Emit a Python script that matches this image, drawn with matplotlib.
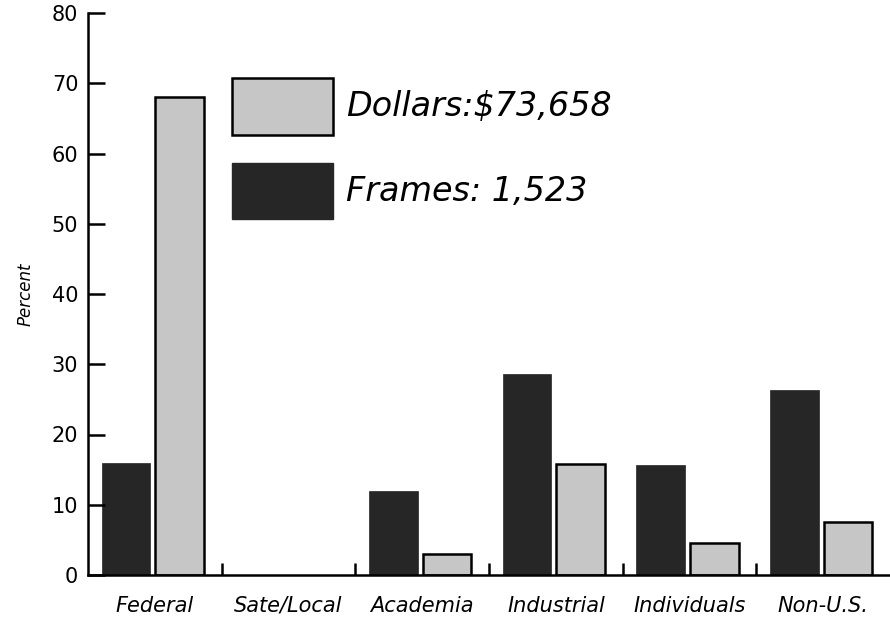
import numpy as np
import matplotlib
matplotlib.use('Agg')
import matplotlib.pyplot as plt
from matplotlib.patches import Patch

plt.rcParams['font.family'] = ['DejaVu Sans']

categories = ['Federal', 'Sate/Local', 'Academia', 'Industrial', 'Individuals', 'Non-U.S.']
frames = [16, 0, 12, 28.6, 15.7, 26.4]
dollars = [68, 0, 3, 15.8, 4.6, 7.5]
yticks = [0, 10, 20, 30, 40, 50, 60, 70, 80]

dark = '#262626'
grey = '#c6c6c6'

fig = plt.figure(figsize=(8.9, 6.2), dpi=100)
ax = fig.add_axes([88 / 890, 1 - 575 / 620, 802 / 890, 562 / 620])

x = np.arange(len(categories))
w = 0.365
ax.bar(x + 0.285, frames, w, color=dark, edgecolor=dark, linewidth=0.5)
# no bar drawn where the value is zero
d = np.array(dollars)
m = d > 0
ax.bar((x + 0.685)[m], d[m], w, color=grey, edgecolor='black', linewidth=1.8)

ax.set_xlim(0, 6)
ax.set_ylim(0, 80)
ax.spines['top'].set_visible(False)
ax.spines['right'].set_visible(False)
ax.spines['left'].set_linewidth(1.8)
ax.spines['bottom'].set_linewidth(1.8)

ax.set_yticks(yticks)
ax.set_yticklabels([str(v) for v in yticks], fontsize=15)
ax.tick_params(axis='y', direction='in', length=12, width=1.8, pad=7)

ax.set_xticks(x + 0.5)
ax.set_xticklabels(categories, fontsize=15, style='italic')
ax.tick_params(axis='x', length=0, pad=15)
ax.set_xticks(np.arange(1, 6), minor=True)
ax.tick_params(axis='x', which='minor', direction='in', length=9, width=1.8)

ax.set_ylabel('Percent', fontsize=12, style='italic', labelpad=12)

handles = [Patch(facecolor=grey, edgecolor='black', linewidth=1.8),
           Patch(facecolor=dark, edgecolor=dark)]
ax.legend(handles, ['Dollars:$73,658', 'Frames: 1,523'],
          loc='upper left', bbox_to_anchor=(0.18, 0.885), frameon=False,
          prop={'size': 24, 'style': 'italic'},
          handlelength=3.03, handleheight=2.25, labelspacing=0.84,
          handletextpad=0.37, borderpad=0, borderaxespad=0)

fig.savefig('out.png', dpi=100)
